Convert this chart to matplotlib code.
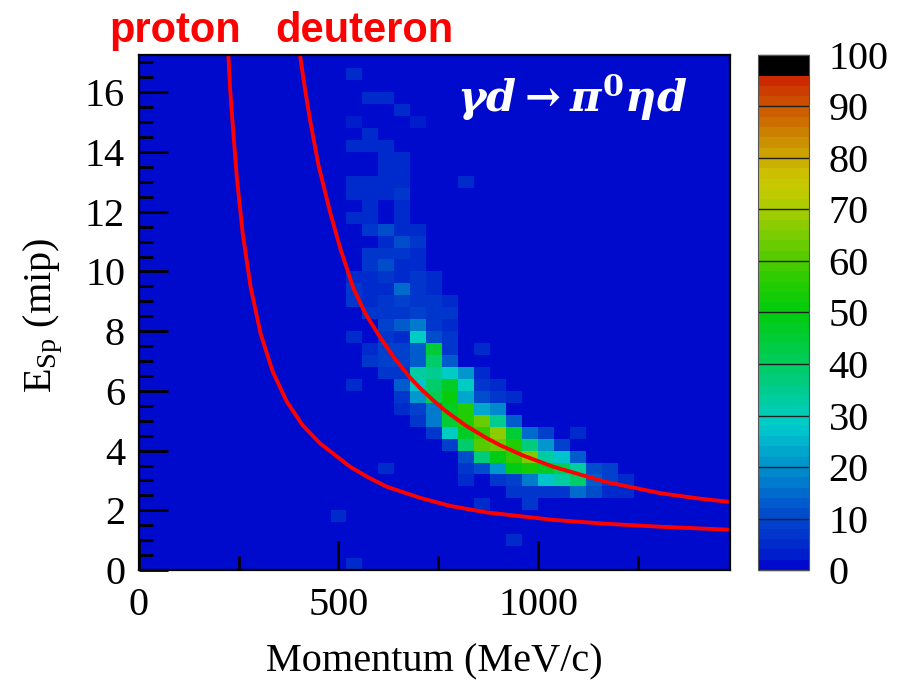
import numpy as np
import matplotlib
matplotlib.use("Agg")
import matplotlib.pyplot as plt
from matplotlib.colors import ListedColormap, Normalize

plt.rcParams["font.family"] = "Liberation Serif"
plt.rcParams["mathtext.fontset"] = "custom"
plt.rcParams["mathtext.it"] = "DejaVu Serif:italic:bold"
plt.rcParams["mathtext.rm"] = "DejaVu Serif:bold"
plt.rcParams["mathtext.bf"] = "DejaVu Serif:bold"

# 2D histogram: 40 MeV/c x 0.4 mip bins, only the filled block 480-1240 MeV/c, 0-16.8 mip
p_edges = np.arange(480, 1241, 40)
e_edges = np.linspace(0, 16.8, 43)

# rows from top (16.4-16.8 mip) down to 0-0.4 mip, columns 480..1200 MeV/c
counts_top_down = [
    [0, 4, 0, 0, 0, 0, 0, 0, 0, 0, 0, 0, 0, 0, 0, 0, 0, 0, 0],
    [0, 0, 0, 0, 0, 0, 0, 0, 0, 0, 0, 0, 0, 0, 0, 0, 0, 0, 0],
    [0, 0, 4, 4, 0, 0, 0, 0, 0, 0, 0, 0, 0, 0, 0, 0, 0, 0, 0],
    [0, 0, 0, 0, 4, 0, 0, 0, 0, 0, 0, 0, 0, 0, 0, 0, 0, 0, 0],
    [0, 3, 0, 0, 0, 3, 0, 0, 0, 0, 0, 0, 0, 0, 0, 0, 0, 0, 0],
    [0, 0, 4, 0, 0, 0, 0, 0, 0, 0, 0, 0, 0, 0, 0, 0, 0, 0, 0],
    [0, 4, 4, 4, 0, 0, 0, 0, 0, 0, 0, 0, 0, 0, 0, 0, 0, 0, 0],
    [0, 0, 0, 4, 4, 0, 0, 0, 0, 0, 0, 0, 0, 0, 0, 0, 0, 0, 0],
    [0, 0, 0, 4, 4, 0, 0, 0, 0, 0, 0, 0, 0, 0, 0, 0, 0, 0, 0],
    [0, 4, 4, 4, 4, 0, 0, 0, 4, 0, 0, 0, 0, 0, 0, 0, 0, 0, 0],
    [0, 4, 4, 4, 6, 0, 0, 0, 0, 0, 0, 0, 0, 0, 0, 0, 0, 0, 0],
    [0, 0, 4, 0, 5, 0, 0, 0, 0, 0, 0, 0, 0, 0, 0, 0, 0, 0, 0],
    [0, 4, 4, 0, 4, 0, 0, 0, 0, 0, 0, 0, 0, 0, 0, 0, 0, 0, 0],
    [0, 0, 6, 10, 5, 4, 0, 0, 0, 0, 0, 0, 0, 0, 0, 0, 0, 0, 0],
    [0, 0, 0, 4, 10, 6, 0, 0, 0, 0, 0, 0, 0, 0, 0, 0, 0, 0, 0],
    [0, 0, 7, 7, 6, 5, 0, 0, 0, 0, 0, 0, 0, 0, 0, 0, 0, 0, 0],
    [0, 0, 6, 10, 4, 5, 0, 0, 0, 0, 0, 0, 0, 0, 0, 0, 0, 0, 0],
    [0, 4, 4, 6, 4, 7, 4, 0, 0, 0, 0, 0, 0, 0, 0, 0, 0, 0, 0],
    [0, 6, 5, 5, 14, 6, 5, 0, 0, 0, 0, 0, 0, 0, 0, 0, 0, 0, 0],
    [0, 6, 5, 6, 9, 6, 6, 5, 0, 0, 0, 0, 0, 0, 0, 0, 0, 0, 0],
    [0, 0, 6, 7, 7, 8, 7, 6, 0, 0, 0, 0, 0, 0, 0, 0, 0, 0, 0],
    [0, 0, 0, 8, 12, 16, 7, 5, 0, 0, 0, 0, 0, 0, 0, 0, 0, 0, 0],
    [0, 5, 0, 7, 4, 28, 10, 6, 0, 0, 0, 0, 0, 0, 0, 0, 0, 0, 0],
    [0, 0, 5, 8, 8, 12, 45, 7, 0, 5, 0, 0, 0, 0, 0, 0, 0, 0, 0],
    [0, 0, 6, 8, 8, 12, 38, 12, 0, 0, 0, 0, 0, 0, 0, 0, 0, 0, 0],
    [0, 0, 0, 7, 7, 32, 34, 28, 20, 5, 0, 0, 0, 0, 0, 0, 0, 0, 0],
    [0, 5, 0, 0, 12, 26, 38, 46, 28, 7, 5, 0, 0, 0, 0, 0, 0, 0, 0],
    [0, 0, 0, 0, 6, 20, 40, 50, 22, 10, 6, 5, 0, 0, 0, 0, 0, 0, 0],
    [0, 0, 0, 0, 5, 8, 16, 46, 54, 22, 18, 0, 0, 0, 0, 0, 0, 0, 0],
    [0, 0, 0, 0, 0, 6, 16, 44, 54, 62, 34, 12, 0, 0, 0, 0, 0, 0, 0],
    [0, 0, 0, 0, 0, 0, 6, 28, 46, 58, 66, 44, 14, 8, 0, 5, 0, 0, 0],
    [0, 0, 0, 0, 0, 0, 0, 9, 38, 60, 62, 55, 36, 20, 8, 0, 0, 0, 0],
    [0, 0, 0, 0, 0, 0, 0, 0, 10, 36, 48, 58, 64, 32, 26, 12, 0, 0, 0],
    [0, 0, 0, 5, 0, 0, 0, 0, 6, 10, 20, 48, 52, 46, 40, 32, 10, 8, 0],
    [0, 0, 0, 0, 0, 0, 0, 0, 5, 0, 6, 8, 16, 26, 32, 38, 12, 8, 4],
    [0, 0, 0, 0, 0, 0, 0, 0, 0, 0, 0, 6, 7, 7, 6, 14, 10, 5, 5],
    [0, 0, 0, 0, 0, 0, 0, 0, 0, 5, 0, 0, 6, 0, 0, 0, 0, 0, 0],
    [4, 0, 0, 0, 0, 0, 0, 0, 0, 0, 0, 0, 0, 0, 0, 0, 0, 0, 0],
    [0, 0, 0, 0, 0, 0, 0, 0, 0, 0, 0, 0, 0, 0, 0, 0, 0, 0, 0],
    [0, 0, 0, 0, 0, 0, 0, 0, 0, 0, 0, 5, 0, 0, 0, 0, 0, 0, 0],
    [0, 0, 0, 0, 0, 0, 0, 0, 0, 0, 0, 0, 0, 0, 0, 0, 0, 0, 0],
    [0, 4, 0, 0, 0, 0, 0, 0, 0, 0, 0, 0, 0, 0, 0, 0, 0, 0, 0],
]

# expected E_Sp bands
proton_p = [224, 228.5, 234, 245, 260, 280, 305, 335, 370, 410, 454, 529, 575, 621, 704, 779,
            871, 1038, 1170, 1306, 1480]
proton_e = [17.25, 16.1, 15.08, 13.18, 11.27, 9.46, 7.91, 6.65, 5.65, 4.85, 4.24, 3.46, 3.1,
            2.79, 2.42, 2.15, 1.93, 1.68, 1.55, 1.45, 1.35]
deut_p = [403.5, 415, 428.6, 450, 478.7, 505, 537, 566, 604, 640, 679, 704, 740, 771, 820, 871,
          905, 960, 1038, 1170, 1308, 1400, 1480]
deut_e = [17.25, 16.2, 15.08, 13.55, 12.0, 10.75, 9.45, 8.62, 7.8, 7.1, 6.45, 6.1, 5.65, 5.3,
          4.83, 4.42, 4.18, 3.85, 3.46, 2.95, 2.57, 2.4, 2.28]

cbar_ticks = [0, 10, 20, 30, 40, 50, 60, 70, 80, 90, 100]

# ROOT-like 50 level palette, dark blue -> cyan -> green -> yellow -> red, black on top
pal_vals = [0, 4, 10, 16, 22, 28, 34, 42, 50, 56, 64, 72, 76, 82, 88, 94, 96]
pal_rgb = np.array([
    (0.00, 0.00, 0.80), (0.00, 0.15, 0.80), (0.00, 0.27, 0.80), (0.00, 0.45, 0.80),
    (0.00, 0.62, 0.80), (0.00, 0.80, 0.80), (0.00, 0.80, 0.60), (0.00, 0.80, 0.30),
    (0.00, 0.80, 0.05), (0.15, 0.80, 0.00), (0.45, 0.80, 0.00), (0.72, 0.80, 0.00),
    (0.80, 0.78, 0.00), (0.80, 0.60, 0.00), (0.80, 0.40, 0.00), (0.80, 0.20, 0.00),
    (0.80, 0.12, 0.00)])
band_mid = np.arange(1, 100, 2)
colors = np.column_stack([np.interp(band_mid, pal_vals, pal_rgb[:, k]) for k in range(3)])
colors[band_mid > 96] = 0.0
cmap = ListedColormap(colors)

fig = plt.figure(figsize=(9.03, 6.82), dpi=100)
ax = fig.add_axes([0.1539, 0.1642, 0.654, 0.7552])
cax = fig.add_axes([0.839, 0.1642, 0.057, 0.7552])

ax.set_facecolor(colors[0])
counts = np.array(counts_top_down)[::-1]
mesh = ax.pcolormesh(p_edges, e_edges, counts, cmap=cmap, norm=Normalize(0, 100))

ax.plot(proton_p, proton_e, color="red", lw=2.8, solid_joinstyle="round")
ax.plot(deut_p, deut_e, color="red", lw=2.8, solid_joinstyle="round")

ax.set_xlim(0, 1480)
ax.set_ylim(0, 17.25)
ax.set_xticks([0, 500, 1000])
ax.set_xticks([250, 750, 1250], minor=True)
ax.set_yticks(np.arange(0, 17, 2))
ax.set_yticks(np.arange(0, 17.25, 0.5), minor=True)
ax.tick_params(which="both", direction="in", top=False, right=False, width=2, labelsize=29)
ax.tick_params(which="major", length=21)
ax.tick_params(which="minor", length=10)
ax.tick_params(axis="x", pad=12)
ax.tick_params(axis="y", pad=10)
for s in ax.spines.values():
    s.set_linewidth(1.6)

ax.set_xlabel("Momentum (MeV/c)", fontsize=29, labelpad=14)
ax.set_ylabel(r"$\mathregular{E_{Sp}}$ (mip)", fontsize=29)
ax.yaxis.set_label_coords(-0.125, 0.495)

ax.text(0.733, 0.918, r"$\gamma d \rightarrow \pi^{0} \eta d$", color="white", fontsize=31,
        transform=ax.transAxes, ha="center", va="center")

fig.text(0.194, 0.938, "proton", color="red", fontsize=30, fontweight="bold",
         family="Liberation Sans", ha="center", va="baseline")
fig.text(0.404, 0.938, "deuteron", color="red", fontsize=30, fontweight="bold",
         family="Liberation Sans", ha="center", va="baseline")

cbar = fig.colorbar(mesh, cax=cax, ticks=cbar_ticks)
cbar.outline.set_linewidth(0.8)
cbar.outline.set_edgecolor("#555555")
cax.tick_params(direction="in", length=37, width=1.0, color="#202020", labelsize=29, pad=14)

fig.savefig("out.png", dpi=100)
